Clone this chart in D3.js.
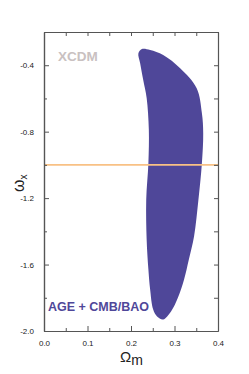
<!DOCTYPE html>
<html lang="en">
<head>
    <title>XCDM contour</title>
    <script src="https://d3js.org/d3.v7.min.js"></script>
    <style>
        body { margin: 0; background: #fff; }
        svg { display: block; font-family: "Liberation Sans", Arial, sans-serif; }
    </style>
</head>
<body>
    <div id="chart"></div>
    <script>

        // contour outline (Omega_m, omega_x), traced clockwise from the top
        const omegaM = [0.225, 0.244, 0.274, 0.313, 0.351, 0.363, 0.366, 0.363, 0.355, 0.345, 0.333, 0.322, 0.308, 0.292, 0.274,
                        0.260, 0.251, 0.244, 0.240, 0.236, 0.235, 0.240, 0.241, 0.236, 0.228, 0.221, 0.217];
        const omegaX = [-0.302, -0.308, -0.338, -0.418, -0.538, -0.689, -0.809, -0.989, -1.210, -1.430, -1.570, -1.690, -1.799, -1.883, -1.931,
                        -1.913, -1.871, -1.750, -1.630, -1.450, -1.210, -0.989, -0.789, -0.598, -0.488, -0.388, -0.328];

        // reference line w = -1
        const refLine = -1.0;

        const xTicks = [0.0, 0.1, 0.2, 0.3, 0.4];
        const xMinor = [0.05, 0.15, 0.25, 0.35];
        const yTicks = [-2.0, -1.6, -1.2, -0.8, -0.4];
        const yMinor = [-1.8, -1.4, -1.0, -0.6, -0.2];

        const width = 249, height = 374;
        const margin = { left: 44, right: 31, top: 32, bottom: 43 };

        const svg = d3.select("#chart")
            .append("svg")
            .attr("width", width)
            .attr("height", height);

        const x = d3.scaleLinear().domain([0, 0.4]).range([margin.left, width - margin.right]);
        const y = d3.scaleLinear().domain([-2.0, -0.2]).range([height - margin.bottom, margin.top]);

        // contour
        const pts = omegaM.map((m, i) => [x(m), y(omegaX[i])]);
        svg.append("path")
            .attr("d", d3.line().curve(d3.curveCatmullRomClosed.alpha(0.5))(pts))
            .attr("fill", "#4f4799");

        // w = -1 line
        svg.append("line")
            .attr("x1", x(0)).attr("x2", x(0.4))
            .attr("y1", y(refLine)).attr("y2", y(refLine))
            .attr("stroke", "#f8c185")
            .attr("stroke-width", 1.6);

        // axes, ticks inward
        const axisStyle = g => {
            g.select(".domain").attr("stroke", "#555").attr("stroke-width", 1.2);
            g.selectAll(".tick line").attr("stroke", "#555");
            g.selectAll(".tick text").attr("fill", "#222").style("font-size", "8px");
        };
        const fmt = d3.format(".1f");
        const fmtY = d => fmt(d).replace("−", "-");

        svg.append("g")
            .attr("transform", `translate(0,${y(-2.0)})`)
            .call(d3.axisBottom(x).tickValues(xTicks).tickFormat(fmt).tickSize(-5).tickPadding(9).tickSizeOuter(0))
            .call(axisStyle);
        svg.append("g")
            .attr("transform", `translate(0,${y(-2.0)})`)
            .call(d3.axisBottom(x).tickValues(xMinor).tickFormat("").tickSize(-3).tickSizeOuter(0))
            .call(axisStyle);
        svg.append("g")
            .attr("transform", `translate(0,${y(-0.2)})`)
            .call(d3.axisTop(x).tickValues(xTicks.concat(xMinor)).tickFormat("").tickSize(-4).tickSizeOuter(0))
            .call(axisStyle);

        svg.append("g")
            .attr("transform", `translate(${x(0)},0)`)
            .call(d3.axisLeft(y).tickValues(yTicks).tickFormat(fmtY).tickSize(-5).tickPadding(10).tickSizeOuter(0))
            .call(axisStyle);
        svg.append("g")
            .attr("transform", `translate(${x(0)},0)`)
            .call(d3.axisLeft(y).tickValues(yMinor).tickFormat("").tickSize(-3).tickSizeOuter(0))
            .call(axisStyle);
        svg.append("g")
            .attr("transform", `translate(${x(0.4)},0)`)
            .call(d3.axisRight(y).tickValues(yTicks.concat(yMinor)).tickFormat("").tickSize(-4).tickSizeOuter(0))
            .call(axisStyle);

        // labels inside the plot
        svg.append("text")
            .attr("x", 58).attr("y", 61)
            .attr("fill", "#c9c1c1")
            .style("font-size", "13.5px").style("font-weight", "bold")
            .text("XCDM");
        svg.append("text")
            .attr("x", 48).attr("y", 311)
            .attr("fill", "#4f4799")
            .style("font-size", "12.5px").style("font-weight", "bold")
            .text("AGE + CMB/BAO");

        // axis titles
        const xt = svg.append("text")
            .attr("x", 120).attr("y", 362)
            .attr("fill", "#222")
            .style("font-size", "15px");
        xt.append("tspan").text("Ω");
        xt.append("tspan").attr("dy", 3).style("font-size", "14px").text("m");

        const yt = svg.append("text")
            .attr("transform", "translate(24,192) rotate(-90)")
            .attr("fill", "#222")
            .style("font-size", "16px");
        yt.append("tspan").text("ω");
        yt.append("tspan").attr("dy", 3).style("font-size", "10px").text("x");

    </script>
</body>
</html>
